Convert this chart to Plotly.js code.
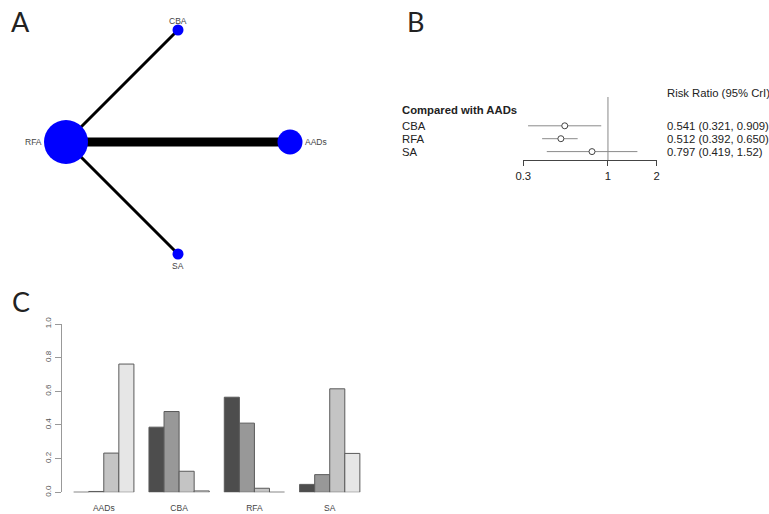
<!DOCTYPE html>
<html>
<head>
<meta charset="utf-8">
<script src="https://cdn.plot.ly/plotly-3.0.1.min.js"></script>
<style>html,body{margin:0;padding:0;background:#fff;}#chart{width:769px;height:514px;}</style>
</head>
<body>
<div id="chart"></div>
<script>
// ---- Panel A: network ----
const treatments = ['AADs', 'CBA', 'RFA', 'SA'];
const patients = [625, 121, 1936, 121];
const edgeFrom = ['RFA', 'RFA', 'RFA'];
const edgeTo = ['AADs', 'CBA', 'SA'];
const edgeStudies = [3, 1, 1];

// ---- Panel B: forest ----
const forestLabels = ['CBA', 'RFA', 'SA'];
const rr = [0.541, 0.512, 0.797];
const rrLow = [0.321, 0.392, 0.419];
const rrHigh = [0.909, 0.650, 1.52];
const forestTicks = [0.3, 1, 2];

// ---- Panel C: rank probabilities ----
const rankNames = ['Rank 1', 'Rank 2', 'Rank 3', 'Rank 4'];
const rank1 = [0, 0.387, 0.565, 0.047];
const rank2 = [0.005, 0.48, 0.411, 0.105];
const rank3 = [0.233, 0.125, 0.024, 0.615];
const rank4 = [0.762, 0.008, 0, 0.231];
const rankTicks = [0, 0.2, 0.4, 0.6, 0.8, 1.0];

const W = 769, H = 514;
const px = v => v / W;
const py = v => 1 - v / H;
const FONT = '"Liberation Sans", Arial, sans-serif';

// circular layout (alphabetical order)
const n = treatments.length;
const posX = treatments.map((t, i) => Math.cos(2 * Math.PI * i / n));
const posY = treatments.map((t, i) => Math.sin(2 * Math.PI * i / n));
const nodeSize = patients.map(p => Math.sqrt(p));
const idx = t => treatments.indexOf(t);

const traces = [];
edgeFrom.forEach((f, k) => {
  const a = idx(f), b = idx(edgeTo[k]);
  traces.push({
    type: 'scatter', mode: 'lines', xaxis: 'x', yaxis: 'y',
    x: [posX[a], posX[b]], y: [posY[a], posY[b]],
    line: {color: '#000', width: 3 * edgeStudies[k]},
    hoverinfo: 'skip', cliponaxis: false
  });
});
traces.push({
  type: 'scatter', mode: 'markers', xaxis: 'x', yaxis: 'y',
  x: posX, y: posY, text: treatments,
  cliponaxis: false,
  marker: {color: '#0000ff', opacity: 1, size: nodeSize, line: {width: 0}},
  hoverinfo: 'text'
});

// forest
const rowY = forestLabels.map((l, i) => forestLabels.length - i);
traces.push({
  type: 'scatter', mode: 'markers', xaxis: 'x2', yaxis: 'y2',
  x: rr, y: rowY, cliponaxis: false,
  error_x: {type: 'data', symmetric: false,
    array: rr.map((v, i) => rrHigh[i] - v),
    arrayminus: rr.map((v, i) => v - rrLow[i]),
    color: '#8a8a8a', thickness: 1, width: 0},
  marker: {symbol: 'circle', size: 6, opacity: 1, color: '#fff', line: {color: '#444', width: 1}},
  hoverinfo: 'x'
});

// bars
const barColors = ['#4D4D4D', '#989898', '#C4C4C4', '#E6E6E6'];
[rank1, rank2, rank3, rank4].forEach((vals, k) => {
  traces.push({
    type: 'bar', xaxis: 'x3', yaxis: 'y3', name: rankNames[k],
    x: treatments, y: vals,
    marker: {color: barColors[k], line: {color: '#5a5a5a', width: 1}}
  });
});

const annotations = [];
// node labels
treatments.forEach((t, i) => {
  const r = nodeSize[i] / 2;
  const ang = Math.round(360 * i / n);
  const a = {text: t, xref: 'x', yref: 'y', x: posX[i], y: posY[i], showarrow: false,
    font: {family: FONT, size: 8.5, color: '#444'}, borderpad: 0};
  if (ang === 0) { a.xanchor = 'left'; a.yanchor = 'middle'; a.xshift = r + 1; }
  else if (ang === 180) { a.xanchor = 'right'; a.yanchor = 'middle'; a.xshift = -(r + 1); }
  else if (ang === 90) { a.xanchor = 'center'; a.yanchor = 'bottom'; a.yshift = r - 3; }
  else { a.xanchor = 'center'; a.yanchor = 'top'; a.yshift = -r; }
  annotations.push(a);
});

const letter = (t, x, y) => annotations.push({
  text: t, xref: 'paper', yref: 'paper', x: px(x), y: py(y),
  xanchor: 'left', yanchor: 'middle', showarrow: false,
  font: {family: 'Lato, "Open Sans", sans-serif', size: 27, color: '#222'}
});
letter('A', 9, 22);
letter('B', 405, 22);
letter('C', 10, 301);

annotations.push({
  text: '<b>Compared with AADs</b>', xref: 'paper', yref: 'paper', x: px(400), y: py(110),
  xanchor: 'left', yanchor: 'middle', showarrow: false,
  font: {family: FONT, size: 11.3, color: '#222'}
});
annotations.push({
  text: 'Risk Ratio (95% CrI)', xref: 'paper', yref: 'paper', x: px(665), y: py(92.7),
  xanchor: 'left', yanchor: 'middle', showarrow: false,
  font: {family: FONT, size: 11.3, color: '#222'}
});
forestLabels.forEach((l, i) => {
  annotations.push({
    text: l, xref: 'paper', yref: 'y2', x: px(400), y: rowY[i],
    xanchor: 'left', yanchor: 'middle', showarrow: false,
    font: {family: FONT, size: 11.3, color: '#222'}
  });
  const f = v => v.toPrecision(3);
  annotations.push({
    text: f(rr[i]) + ' (' + f(rrLow[i]) + ', ' + f(rrHigh[i]) + ')',
    xref: 'paper', yref: 'y2', x: px(665), y: rowY[i],
    xanchor: 'left', yanchor: 'middle', showarrow: false,
    font: {family: FONT, size: 11.3, color: '#222'}
  });
});

const layout = {
  width: W, height: H,
  margin: {l: 0, r: 0, t: 0, b: 0, pad: 0},
  paper_bgcolor: '#fff', plot_bgcolor: 'rgba(0,0,0,0)',
  showlegend: false,
  font: {family: FONT},
  barmode: 'group', bargap: 0.2, bargroupgap: 0,
  xaxis: {domain: [px(43.6), px(312.4)], range: [-1.2, 1.2], visible: false, fixedrange: true},
  yaxis: {domain: [py(276.4), py(7.6)], range: [-1.2, 1.2], visible: false, fixedrange: true},
  xaxis2: {
    type: 'log', anchor: 'y2',
    domain: [px(523.3), px(656.7)],
    range: [Math.log10(0.3), Math.log10(2)],
    tickvals: forestTicks, ticktext: forestTicks.map(String),
    ticks: 'outside', ticklen: 5, tickcolor: '#444', tickwidth: 1,
    showline: true, linecolor: '#444', linewidth: 1,
    showgrid: false, zeroline: false,
    tickfont: {family: FONT, size: 11.3, color: '#222'}
  },
  yaxis2: {
    anchor: 'x2', domain: [py(160), py(97)],
    range: [0.349, 5.233], visible: false
  },
  xaxis3: {
    anchor: 'y3', type: 'category',
    domain: [px(61.6), px(367.4)], range: [-0.56, 3.5],
    showline: false, ticks: '', showgrid: false, zeroline: false,
    ticklabelstandoff: 9,
    tickfont: {family: FONT, size: 8.5, color: '#444'}
  },
  yaxis3: {
    anchor: 'x3', domain: [py(492.3), py(324)], range: [0, 1],
    tickvals: rankTicks, ticktext: rankTicks.map(v => v.toFixed(1)),
    tickangle: -90, ticks: 'outside', ticklen: 6, tickcolor: '#999', tickwidth: 1,
    showline: true, linecolor: '#999', linewidth: 1,
    showgrid: false, zeroline: false,
    tickfont: {family: FONT, size: 8, color: '#555'}
  },
  shapes: [{
    type: 'line', xref: 'x2', yref: 'y2 domain', x0: 1, x1: 1, y0: 0, y1: 1,
    line: {color: '#888', width: 1}, layer: 'below'
  }],
  annotations: annotations
};

Plotly.newPlot('chart', traces, layout, {displayModeBar: false, staticPlot: true});
</script>
</body>
</html>
